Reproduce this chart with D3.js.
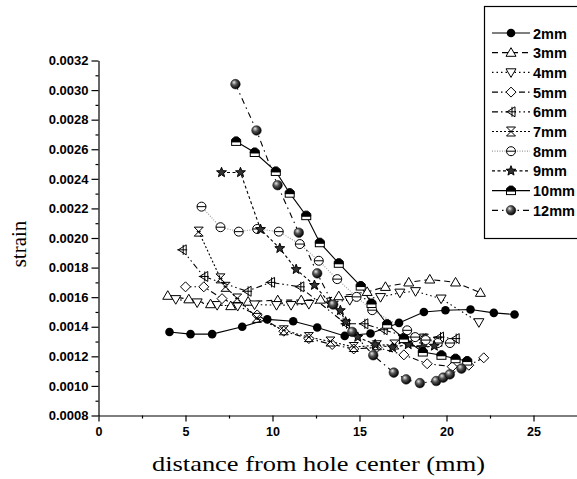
<!DOCTYPE html>
<html>
<head>
<meta charset="utf-8">
<script src="https://cdn.jsdelivr.net/npm/d3@7"></script>
<style>
  body { margin: 0; background: #fff; }
  svg { display: block; }
</style>
</head>
<body>
<svg id="chart" width="577" height="479"></svg>
<script>
// series values: distance (mm) and strain
const x2 = [4.08, 5.29, 6.53, 8.26, 9.7, 11.19, 12.57, 14.15, 15.63, 17.27, 18.7, 19.94, 21.38, 22.72, 23.91];
const y2 = [0.001365, 0.00135, 0.00135, 0.0014, 0.00145, 0.001437, 0.001395, 0.001338, 0.001354, 0.001426, 0.0015, 0.001512, 0.001517, 0.001494, 0.001483];

const x3 = [3.98, 5.19, 6.44, 7.6, 8.6, 10.3, 11.65, 12.76, 13.81, 15.44, 16.49, 17.83, 19.04, 20.52, 21.95];
const y3 = [0.00161, 0.001586, 0.001553, 0.00154, 0.00157, 0.00158, 0.00158, 0.001584, 0.001607, 0.001636, 0.00167, 0.0017, 0.00172, 0.0017, 0.00163];

const x4 = [4.44, 5.67, 6.82, 8.0, 8.97, 10.23, 11.07, 12.09, 14.44, 16.21, 17.32, 18.22, 19.69, 21.86];
const y4 = [0.001586, 0.001564, 0.001546, 0.00154, 0.00155, 0.001546, 0.001546, 0.001553, 0.00158, 0.0016, 0.00163, 0.00164, 0.00159, 0.00143];

const x5 = [5.0, 6.05, 7.1, 9.12, 10.65, 12.09, 13.43, 14.67, 16.0, 17.55, 18.89, 20.33, 21.28, 22.14];
const y5 = [0.00167, 0.00167, 0.00159, 0.00148, 0.00137, 0.00132, 0.00128, 0.00125, 0.00126, 0.00121, 0.00115, 0.00113, 0.00114, 0.00119];

const x6 = [4.81, 6.05, 8.54, 9.89, 11.57, 14.2, 15.25, 16.36, 17.5, 18.6, 19.6, 20.5];
const y6 = [0.00192, 0.00174, 0.00164, 0.0017, 0.00167, 0.00142, 0.00142, 0.00138, 0.00134, 0.00132, 0.00133, 0.00132];

const x7 = [5.76, 7.01, 7.3, 7.97, 9.1, 10.65, 12.09, 13.33, 14.67, 16.0, 17.0, 17.9, 18.7, 19.5];
const y7 = [0.002043, 0.001727, 0.00167, 0.001591, 0.00146, 0.001376, 0.00133, 0.0013, 0.001263, 0.001275, 0.00128, 0.0013, 0.00132, 0.0013];

const x8 = [5.92, 7.01, 8.06, 9.12, 10.36, 11.57, 12.66, 13.72, 14.83, 15.73, 17.74, 18.2, 18.8, 19.5, 20.2];
const y8 = [0.002212, 0.002073, 0.002043, 0.002061, 0.002043, 0.001959, 0.001846, 0.001722, 0.001602, 0.001512, 0.001376, 0.00133, 0.00131, 0.00129, 0.00129];

const x9 = [7.07, 8.16, 9.31, 10.42, 11.36, 12.41, 13.33, 13.9, 14.2, 14.9, 15.9, 16.9, 17.8, 18.6, 19.3];
const y9 = [0.002443, 0.002443, 0.002059, 0.00193, 0.001788, 0.001681, 0.001557, 0.00151, 0.001433, 0.00133, 0.00128, 0.00126, 0.00128, 0.00126, 0.00127];

const x10 = [7.91, 8.98, 10.19, 10.99, 11.94, 12.72, 13.81, 15.07, 15.69, 16.59, 17.55, 18.64, 19.71, 20.52, 21.19];
const y10 = [0.002653, 0.002578, 0.00245, 0.002303, 0.002151, 0.001968, 0.001829, 0.001675, 0.001557, 0.001417, 0.00132, 0.001229, 0.001207, 0.001184, 0.001168];

const x12 = [7.87, 9.08, 10.29, 11.51, 12.57, 13.49, 14.58, 15.79, 16.97, 17.68, 18.47, 19.41, 19.81, 20.19, 20.86];
const y12 = [0.00304, 0.002727, 0.002357, 0.002036, 0.001761, 0.00155, 0.001365, 0.001207, 0.00109, 0.001044, 0.001019, 0.001033, 0.001056, 0.001078, 0.001117];

const seriesNames = ["2mm", "3mm", "4mm", "5mm", "6mm", "7mm", "8mm", "9mm", "10mm", "12mm"];
const xTicks = [0, 5, 10, 15, 20, 25];
const yTicks = [0.0008, 0.0010, 0.0012, 0.0014, 0.0016, 0.0018, 0.0020, 0.0022, 0.0024, 0.0026, 0.0028, 0.0030, 0.0032];

const svg = d3.select("#chart");

const x = d3.scaleLinear().domain([0, 27.5]).range([98.5, 577]);
const y = d3.scaleLinear().domain([0.0008, 0.0032]).range([415.5, 60.5]);

// gradient for the shaded ball marker
const grad = svg.append("defs").append("radialGradient")
  .attr("id", "ball").attr("cx", "40%").attr("cy", "40%").attr("r", "60%")
  .attr("fx", "35%").attr("fy", "30%");
grad.append("stop").attr("offset", "0%").attr("stop-color", "#e8e8e8");
grad.append("stop").attr("offset", "45%").attr("stop-color", "#555");
grad.append("stop").attr("offset", "100%").attr("stop-color", "#000");

const series = [
  { name: "2mm", xs: x2, ys: y2, dash: null, color: "#000", marker: "dot" },
  { name: "3mm", xs: x3, ys: y3, dash: "6,4", color: "#000", marker: "triUp" },
  { name: "4mm", xs: x4, ys: y4, dash: "1.5,3", color: "#000", marker: "triDown" },
  { name: "5mm", xs: x5, ys: y5, dash: "6,3,1.5,3", color: "#000", marker: "diamond" },
  { name: "6mm", xs: x6, ys: y6, dash: "6,3,1.5,3,1.5,3", color: "#000", marker: "triLeft" },
  { name: "7mm", xs: x7, ys: y7, dash: "2,2", color: "#000", marker: "hourglass" },
  { name: "8mm", xs: x8, ys: y8, dash: "1,1.5", color: "#999", marker: "circleBar" },
  { name: "9mm", xs: x9, ys: y9, dash: "3,2.5", color: "#000", marker: "star" },
  { name: "10mm", xs: x10, ys: y10, dash: null, color: "#000", marker: "house" },
  { name: "12mm", xs: x12, ys: y12, dash: "6,4,1.5,4", color: "#000", marker: "ball" }
];

function drawMarker(g, type) {
  if (type === "dot") {
    g.append("circle").attr("r", 4.3).attr("fill", "#000");
  } else if (type === "triUp") {
    g.append("path").attr("d", "M0,-5L5,3.6L-5,3.6Z").attr("fill", "#fff").attr("stroke", "#000");
  } else if (type === "triDown") {
    g.append("path").attr("d", "M0,5L5,-3.6L-5,-3.6Z").attr("fill", "#fff").attr("stroke", "#000");
  } else if (type === "diamond") {
    g.append("path").attr("d", "M0,-5L5,0L0,5L-5,0Z").attr("fill", "#fff").attr("stroke", "#000");
  } else if (type === "triLeft") {
    g.append("path").attr("d", "M4,-5L-4,0L4,5Z").attr("fill", "#fff").attr("stroke", "#000");
    g.append("path").attr("d", "M-5,0H5M1,-5V5").attr("stroke", "#000");
  } else if (type === "hourglass") {
    g.append("path").attr("d", "M-4.5,-4.5L4.5,4.5M4.5,-4.5L-4.5,4.5M-4.5,-4.5H4.5M-4.5,4.5H4.5M-2,0H2")
      .attr("fill", "none").attr("stroke", "#000");
  } else if (type === "circleBar") {
    g.append("circle").attr("r", 4.5).attr("fill", "#fff").attr("stroke", "#000");
    g.append("path").attr("d", "M-4.5,0H4.5").attr("stroke", "#000");
  } else if (type === "star") {
    const pts = d3.range(10).map(i => {
      const a = -Math.PI / 2 + i * Math.PI / 5;
      const r = i % 2 ? 2.2 : 5.2;
      return [r * Math.cos(a), r * Math.sin(a)];
    });
    g.append("path").attr("d", "M" + pts.join("L") + "Z").attr("fill", "#333").attr("stroke", "#000");
  } else if (type === "house") {
    g.append("rect").attr("x", -4.5).attr("y", 0).attr("width", 9).attr("height", 4)
      .attr("fill", "#fff").attr("stroke", "#000");
    g.append("path").attr("d", "M-4.5,0.5L-4.5,-2L-1.5,-4.5H1.5L4.5,-2L4.5,0.5Z").attr("fill", "#000").attr("stroke", "#000");
  } else if (type === "ball") {
    g.append("circle").attr("r", 4.8).attr("fill", "url(#ball)").attr("stroke", "#111").attr("stroke-width", 0.5);
  }
}

const line = d3.line().x(d => x(d[0])).y(d => y(d[1]));

// lines first, then markers
series.forEach(s => {
  const pts = s.xs.map((v, i) => [v, s.ys[i]]);
  svg.append("path")
    .datum(pts)
    .attr("d", line)
    .attr("fill", "none")
    .attr("stroke", s.color)
    .attr("stroke-width", 1.1)
    .attr("stroke-dasharray", s.dash);
});

series.forEach(s => {
  const pts = s.xs.map((v, i) => [v, s.ys[i]]);
  svg.append("g")
    .selectAll("g")
    .data(pts)
    .join("g")
    .attr("transform", d => `translate(${x(d[0])},${y(d[1])})`)
    .each(function () { drawMarker(d3.select(this), s.marker); });
});

// axes
const xAxis = svg.append("g")
  .attr("transform", `translate(0,${y(0.0008)})`)
  .call(d3.axisBottom(x).tickValues(xTicks).tickSize(6).tickSizeOuter(0).tickFormat(d3.format("d")));
svg.append("g")
  .attr("transform", `translate(0,${y(0.0008)})`)
  .call(d3.axisBottom(x).tickValues(d3.range(2.5, 27.5, 5)).tickSize(3).tickSizeOuter(0).tickFormat(""))
  .select(".domain").remove();

const yAxis = svg.append("g")
  .attr("transform", `translate(${x(0)},0)`)
  .call(d3.axisLeft(y).tickValues(yTicks).tickSize(7).tickSizeOuter(0).tickFormat(d3.format(".4f")));
svg.append("g")
  .attr("transform", `translate(${x(0)},0)`)
  .call(d3.axisLeft(y).tickValues(yTicks.slice(0, -1).map(v => v + 0.0001)).tickSize(3).tickSizeOuter(0).tickFormat(""))
  .select(".domain").remove();

svg.selectAll(".domain, .tick line").attr("stroke", "#000").attr("stroke-width", 1.2);
xAxis.selectAll("text")
  .attr("font-family", "Liberation Sans, Arial, sans-serif")
  .attr("font-weight", "bold").attr("font-size", 12.5).attr("fill", "#000").attr("dy", "0.9em");
yAxis.selectAll("text")
  .attr("font-family", "Liberation Sans, Arial, sans-serif")
  .attr("font-weight", "bold").attr("font-size", 13).attr("fill", "#000").attr("x", -10);

// axis titles
svg.append("text")
  .attr("x", 318.5).attr("y", 471)
  .attr("text-anchor", "middle")
  .attr("font-family", "Liberation Serif, Times New Roman, serif")
  .attr("font-size", 22)
  .attr("textLength", 333).attr("lengthAdjust", "spacingAndGlyphs")
  .text("distance from hole center (mm)");

svg.append("text")
  .attr("transform", "translate(26,244) rotate(-90)")
  .attr("text-anchor", "middle")
  .attr("font-family", "Liberation Serif, Times New Roman, serif")
  .attr("font-size", 21)
  .text("strain");

// legend
const legend = svg.append("g");
legend.append("rect")
  .attr("x", 484.5).attr("y", 6.5).attr("width", 140).attr("height", 232)
  .attr("fill", "#fff").attr("stroke", "#000").attr("stroke-width", 1.2);

series.forEach((s, i) => {
  const ly = 33 + i * 19.7;
  const row = legend.append("g").attr("transform", `translate(0,${ly})`);
  row.append("line")
    .attr("x1", 492).attr("x2", 530).attr("y1", 0).attr("y2", 0)
    .attr("stroke", s.color).attr("stroke-width", 1.2)
    .attr("stroke-dasharray", s.dash);
  const m = row.append("g").attr("transform", "translate(511,0)");
  drawMarker(m, s.marker);
  row.append("text")
    .attr("x", 533).attr("y", 5.5)
    .attr("font-family", "Liberation Sans, Arial, sans-serif")
    .attr("font-weight", "bold").attr("font-size", 14.5)
    .attr("fill", "#000")
    .text(seriesNames[i]);
});
</script>
</body>
</html>
